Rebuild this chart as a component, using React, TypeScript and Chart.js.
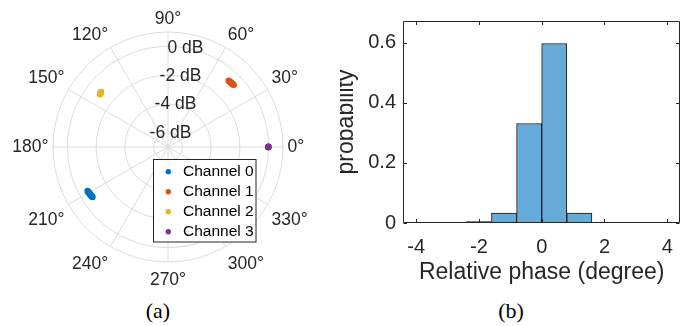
import React, { useEffect, useRef } from 'react';
import { Chart, registerables } from 'chart.js';

Chart.register(...registerables);

// ---------- Panel (a): polar scatter ----------
const channelNames = ['Channel 0', 'Channel 1', 'Channel 2', 'Channel 3'];
const channelColors = ['#0072BD', '#D95319', '#EDB120', '#7E2F8E'];

const ch0Phase = [208.7, 209.2, 209.8, 210.3, 210.9, 211.4, 212.0, 212.5, 213.1, 213.5];
const ch0Mag = [-0.62, -0.63, -0.64, -0.65, -0.66, -0.66, -0.67, -0.68, -0.69, -0.70];
const ch1Phase = [43.4, 43.9, 44.4, 44.9, 45.4, 45.9, 46.4, 47.0, 47.5];
const ch1Mag = [-0.71, -0.72, -0.72, -0.73, -0.73, -0.74, -0.74, -0.75, -0.75];
const ch2Phase = [140.5, 140.8, 141.2, 141.5, 141.9, 142.2];
const ch2Mag = [-0.97, -0.98, -0.99, -1.0, -1.01, -1.02];
const ch3Phase = [-0.2, 0.0, 0.1, 0.2];
const ch3Mag = [-0.03, -0.02, -0.02, -0.01];

const channelPhases = [ch0Phase, ch1Phase, ch2Phase, ch3Phase];
const channelMags = [ch0Mag, ch1Mag, ch2Mag, ch3Mag];

const thetaTicks = [0, 30, 60, 90, 120, 150, 180, 210, 240, 270, 300, 330];
const rTicks = [-6, -4, -2, 0];
const rLimits = [-7, 1];
const rAxisAngle = 80;

// ---------- Panel (b): histogram ----------
const binEdges = [-4, -3.2, -2.4, -1.6, -0.8, 0, 0.8, 1.6, 2.4, 3.2, 4];
const probabilities = [0, 0, 0.005, 0.033, 0.331, 0.597, 0.033, 0, 0, 0];
const xTicks = [-4, -2, 0, 2, 4];
const yTicks = [0, 0.2, 0.4, 0.6];
const xLimits = [-4.42, 4.42];
const yLimits = [0, 0.672];

const FONT = '"Liberation Sans", Arial, Helvetica, sans-serif';
const TEXT = '#262626';
const GRID = '#dcdcdc';

const deg = Math.PI / 180;

const polarPlugin = {
  id: 'polarFrame',
  beforeDatasetsDraw(chart: any) {
    const { ctx, scales } = chart;
    const sx = scales.x, sy = scales.y;
    const cx = sx.getPixelForValue(0);
    const cy = sy.getPixelForValue(0);
    const ppu = sx.getPixelForValue(1) - cx;
    const span = rLimits[1] - rLimits[0];
    const R = span * ppu;
    ctx.save();
    ctx.strokeStyle = GRID;
    ctx.lineWidth = 1;
    for (const a of thetaTicks) {
      ctx.beginPath();
      ctx.moveTo(cx, cy);
      ctx.lineTo(cx + R * Math.cos(a * deg), cy - R * Math.sin(a * deg));
      ctx.stroke();
    }
    for (const t of rTicks) {
      ctx.beginPath();
      ctx.arc(cx, cy, (t - rLimits[0]) * ppu, 0, Math.PI * 2);
      ctx.stroke();
    }
    ctx.beginPath();
    ctx.arc(cx, cy, R, 0, Math.PI * 2);
    ctx.stroke();

    ctx.fillStyle = TEXT;
    ctx.font = `17.5px ${FONT}`;
    ctx.textAlign = 'center';
    ctx.textBaseline = 'middle';
    for (const t of rTicks) {
      const rr = (t - rLimits[0]) * ppu;
      ctx.fillText(`${t} dB`, cx + rr * Math.cos(rAxisAngle * deg), cy - rr * Math.sin(rAxisAngle * deg));
    }
    const RL = R + 4.5;
    for (const a of thetaTicks) {
      const c = Math.cos(a * deg), s = Math.sin(a * deg);
      const x = cx + RL * c;
      let y = cy - RL * s;
      ctx.textAlign = c > 1e-6 ? 'left' : c < -1e-6 ? 'right' : 'center';
      if (s > 1e-6) ctx.textBaseline = 'bottom';
      else if (s < -1e-6) { ctx.textBaseline = 'top'; y += 5; }
      else ctx.textBaseline = 'middle';
      ctx.fillText(`${a}°`, x, y);
    }
    ctx.restore();
  },
  afterDraw(chart: any) {
    const { ctx } = chart;
    ctx.save();
    const bx = 153.5, by = 159.5, bw = 102.5, bh = 82.5;
    ctx.fillStyle = '#ffffff';
    ctx.fillRect(bx, by, bw, bh);
    ctx.strokeStyle = TEXT;
    ctx.lineWidth = 1;
    ctx.strokeRect(bx, by, bw, bh);
    ctx.font = `15.5px ${FONT}`;
    ctx.textAlign = 'left';
    ctx.textBaseline = 'middle';
    chart.data.datasets.forEach((ds: any, i: number) => {
      const yy = 171.7 + i * 20.0;
      ctx.fillStyle = ds.backgroundColor;
      ctx.beginPath();
      ctx.arc(168.3, yy, 2.7, 0, Math.PI * 2);
      ctx.fill();
      ctx.fillStyle = '#000000';
      ctx.fillText(ds.label, 183, yy + 0.5);
    });
    ctx.restore();
  },
};

const histPlugin = {
  id: 'histFrame',
  afterDraw(chart: any) {
    const { ctx, chartArea: a, scales } = chart;
    const sx = scales.x, sy = scales.y;
    ctx.save();
    ctx.strokeStyle = TEXT;
    ctx.lineWidth = 1;
    const L = Math.round(a.left) + 0.5;
    const Rr = Math.round(a.right) - 0.5;
    const T = Math.round(a.top) + 0.5;
    const B = Math.round(a.bottom) - 0.5;
    ctx.beginPath();
    ctx.rect(L, T, Rr - L, B - T);
    const tl = 3.5;
    for (const v of xTicks) {
      const px = Math.round(sx.getPixelForValue(v)) + 0.5;
      ctx.moveTo(px, B); ctx.lineTo(px, B - tl);
      ctx.moveTo(px, T); ctx.lineTo(px, T + tl);
    }
    for (const v of yTicks) {
      const py = Math.round(sy.getPixelForValue(v)) + 0.5;
      ctx.moveTo(L, py); ctx.lineTo(L + tl, py);
      ctx.moveTo(Rr, py); ctx.lineTo(Rr - tl, py);
    }
    ctx.stroke();

    ctx.fillStyle = TEXT;
    ctx.font = `23px ${FONT}`;
    ctx.textAlign = 'center';
    ctx.textBaseline = 'middle';
    ctx.fillText('Relative phase (degree)', (a.left + a.right) / 2, 272.5);
    ctx.translate(7, (a.top + a.bottom) / 2);
    ctx.rotate(-Math.PI / 2);
    ctx.fillText('probability', 0, 0);
    ctx.restore();
  },
};

function PolarPanel() {
  const ref = useRef<HTMLCanvasElement>(null);
  useEffect(() => {
    const span = rLimits[1] - rLimits[0];
    const datasets = channelNames.map((name, i) => ({
      label: name,
      data: channelPhases[i].map((p, k) => {
        const r = channelMags[i][k] - rLimits[0];
        return { x: r * Math.cos(p * deg), y: r * Math.sin(p * deg) };
      }),
      backgroundColor: channelColors[i],
      borderColor: channelColors[i],
      borderWidth: 0,
      pointRadius: 3.2,
      pointHoverRadius: 3.2,
    }));
    const chart = new Chart(ref.current as HTMLCanvasElement, {
      type: 'scatter',
      data: { datasets },
      options: {
        animation: false,
        responsive: false,
        devicePixelRatio: 1,
        layout: { padding: { left: 53, top: 32, right: 57, bottom: 28 } },
        scales: {
          x: { type: 'linear', min: -span, max: span, display: false },
          y: { type: 'linear', min: -span, max: span, display: false },
        },
        plugins: { legend: { display: false }, tooltip: { enabled: false } },
        events: [],
      },
      plugins: [polarPlugin],
    } as any);
    return () => chart.destroy();
  }, []);
  return (
    <canvas
      ref={ref}
      width={340}
      height={290}
      style={{ position: 'absolute', left: 0, top: 0, width: 340, height: 290 }}
    />
  );
}

function HistPanel() {
  const ref = useRef<HTMLCanvasElement>(null);
  useEffect(() => {
    const data = probabilities.map((p, i) => ({ x: (binEdges[i] + binEdges[i + 1]) / 2, y: p }));
    const chart = new Chart(ref.current as HTMLCanvasElement, {
      type: 'bar',
      data: {
        datasets: [
          {
            label: 'probability',
            data,
            backgroundColor: '#66AAD7',
            borderColor: '#1a1a1a',
            borderWidth: 1,
            barPercentage: 1,
            categoryPercentage: 1,
            borderSkipped: false,
          },
        ],
      },
      options: {
        animation: false,
        responsive: false,
        devicePixelRatio: 1,
        layout: { padding: { left: 0, top: 21, right: 5, bottom: 0 } },
        scales: {
          x: {
            type: 'linear',
            min: xLimits[0],
            max: xLimits[1],
            offset: false,
            grid: { display: false, drawTicks: false },
            border: { display: false },
            afterBuildTicks: (s: any) => { s.ticks = xTicks.map((v) => ({ value: v })); },
            afterFit: (s: any) => { s.height = 72; },
            ticks: {
              padding: 14,
              color: TEXT,
              maxRotation: 0,
              autoSkip: false,
              font: { family: FONT, size: 20, lineHeight: 1 },
              callback: (v: any) => String(v),
            },
          },
          y: {
            type: 'linear',
            min: yLimits[0],
            max: yLimits[1],
            grid: { display: false, drawTicks: false },
            border: { display: false },
            afterBuildTicks: (s: any) => { s.ticks = yTicks.map((v) => ({ value: v })); },
            afterFit: (s: any) => { s.width = 63; },
            ticks: {
              padding: 7,
              color: TEXT,
              autoSkip: false,
              font: { family: FONT, size: 20, lineHeight: 1 },
              callback: (v: any) => String(v),
            },
          },
        },
        plugins: { legend: { display: false }, tooltip: { enabled: false } },
        events: [],
      },
      plugins: [histPlugin],
    } as any);
    return () => chart.destroy();
  }, []);
  return (
    <canvas
      ref={ref}
      width={347}
      height={295}
      style={{ position: 'absolute', left: 340, top: 0, width: 347, height: 295 }}
    />
  );
}

const captionStyle: React.CSSProperties = {
  position: 'absolute',
  top: 300,
  width: 80,
  height: 22,
  lineHeight: '22px',
  fontSize: 22,
  fontFamily: '"Liberation Serif", "Times New Roman", serif',
  textAlign: 'center',
  color: '#000',
};

export default function App() {
  return (
    <div style={{ position: 'absolute', left: 0, top: 0, width: 687, height: 326, background: '#fff', overflow: 'hidden' }}>
      <PolarPanel />
      <HistPanel />
      <div style={{ ...captionStyle, left: 118 }}>(a)</div>
      <div style={{ ...captionStyle, left: 471 }}>(b)</div>
    </div>
  );
}
